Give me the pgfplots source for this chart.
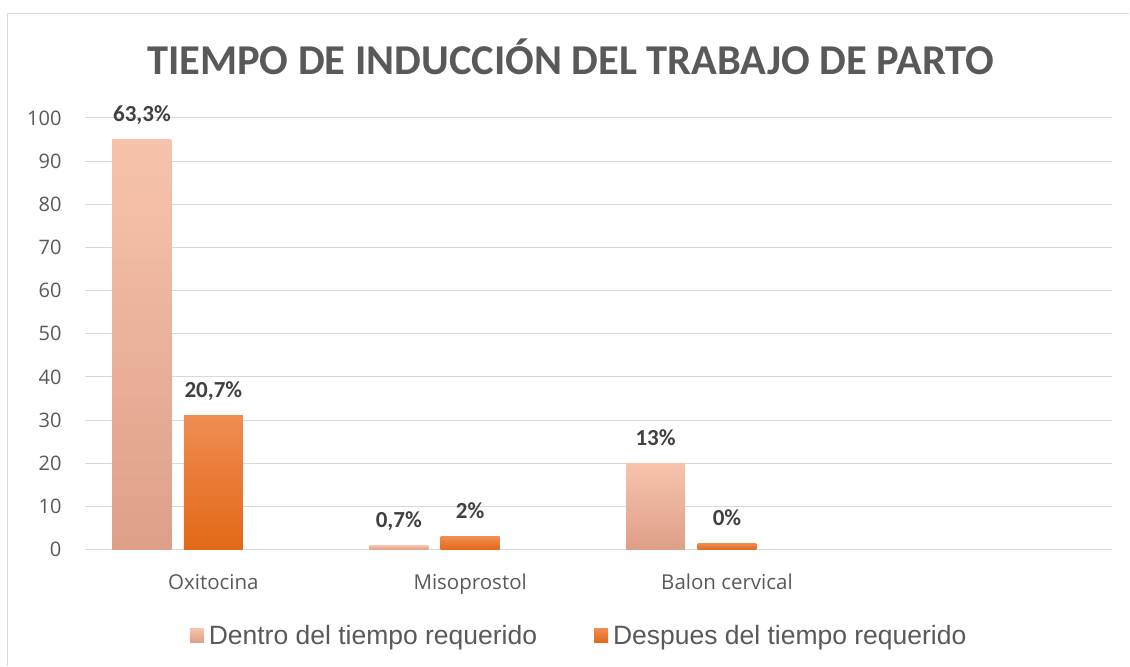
\documentclass[border=0pt]{standalone}
\usepackage{fontspec}
\setmainfont{Carlito}
\newfontfamily\opensans{Open Sans}
\newfontfamily\arialf{Liberation Sans}
\usepackage{pgfplots}
\pgfplotsset{compat=1.18}
\definecolor{gridc}{HTML}{D9D9D9}
\definecolor{txt}{HTML}{595959}
\definecolor{lbl}{HTML}{404040}
\definecolor{d1top}{HTML}{F7C3AC}
\definecolor{d1bot}{HTML}{DE9F88}
\definecolor{d2top}{HTML}{F08C52}
\definecolor{d2bot}{HTML}{E26816}
\begin{document}
\begin{tikzpicture}[x=1pt,y=1pt]
\path (0,0) rectangle (1130,666);
\draw[gridc, line width=1.5pt] (7.5,0) -- (7.5,652.5) -- (1130,652.5);
\node[anchor=base, text=txt, font=\bfseries\fontsize{42.5}{50}\selectfont] at (571,591) {TIEMPO DE INDUCCIÓN DEL TRABAJO DE PARTO};
\begin{axis}[
  at={(85pt,116pt)}, anchor=south west,
  width=1028pt, height=432pt, scale only axis,
  xmin=-0.5, xmax=3.5, ymin=0, ymax=100,
  ytick={0,10,...,100},
  xtick={0,1,2},
  xticklabels={Oxitocina,Misoprostol,Balon cervical},
  axis line style={draw=none},
  major tick length=0pt,
  ymajorgrids, major grid style={gridc, line width=1pt},
  /pgf/number format/assume math mode=true,
  yticklabel style={anchor=east, xshift=-20pt, text=txt, font=\opensans\fontsize{20}{23}\selectfont},
  xticklabel style={anchor=base, yshift=-40pt, text=txt, font=\opensans\fontsize{20.5}{24}\selectfont},
  ybar, bar width=0.2296,
  point meta=explicit symbolic,
  nodes near coords,
  every node near coord/.append style={anchor=base, yshift=18pt, text=lbl, font=\bfseries\fontsize{23}{27}\selectfont},
  legend columns=2,
  legend style={draw=none, fill=none, at={(0.481,-0.199)}, anchor=center,
    font=\arialf\fontsize{26.5}{30}\selectfont, text=txt,
    /tikz/every odd column/.append style={column sep=3pt},
    /tikz/every even column/.append style={column sep=55pt}},
]
% Dentro del tiempo requerido
\addplot[draw=none, top color=d1top, bottom color=d1bot, bar shift=-0.278,
  legend image code/.code={\path[top color=d1top, bottom color=d1bot] (0pt,-7pt) rectangle (14pt,7pt);}]
  coordinates {(0,95) [63,3\%]};
\addlegendentry{Dentro del tiempo requerido}
% Despues del tiempo requerido
\addplot[draw=none, top color=d2top, bottom color=d2bot, bar shift=0,
  legend image code/.code={\path[top color=d2top, bottom color=d2bot] (0pt,-7pt) rectangle (14pt,7pt);}]
  coordinates {(0,31) [20,7\%]};
\addlegendentry{Despues del tiempo requerido}
\addplot[forget plot, draw=none, top color=d1top, bottom color=d1bot, bar shift=-0.278]
  coordinates {(1,1) [0,7\%]};
\addplot[forget plot, draw=none, top color=d1top, bottom color=d1bot, bar shift=-0.278]
  coordinates {(2,20) [13\%]};
\addplot[forget plot, draw=none, top color=d2top, bottom color=d2bot, bar shift=0]
  coordinates {(1,3) [2\%]};
\addplot[forget plot, draw=none, top color=d2top, bottom color=d2bot, bar shift=0]
  coordinates {(2,1.5) [0\%]};
\end{axis}
\end{tikzpicture}
\end{document}
